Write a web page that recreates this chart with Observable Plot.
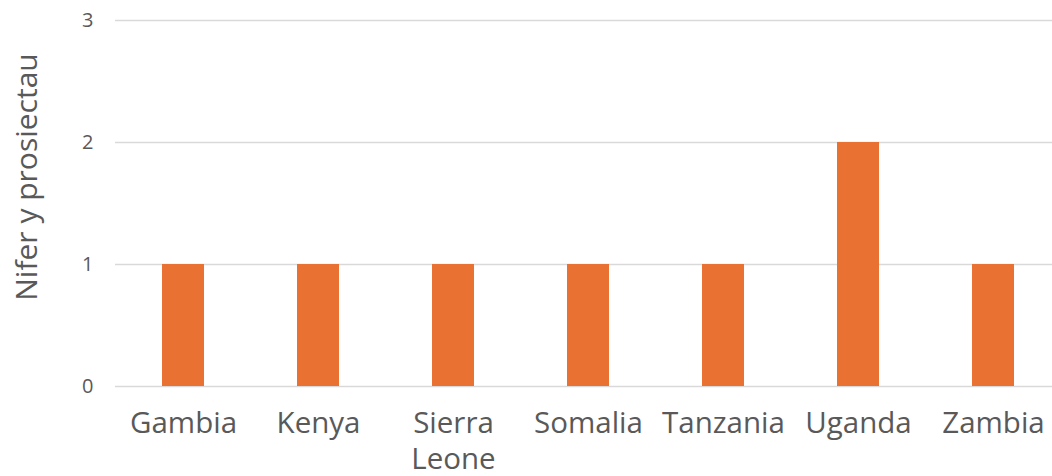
<!DOCTYPE html>
<html><head><meta charset="utf-8">
<script src="https://cdn.jsdelivr.net/npm/d3@7"></script>
<script src="https://cdn.jsdelivr.net/npm/@observablehq/plot@0.6"></script>
<style>body{margin:0;background:#fff}</style>
</head><body><div id="chart"></div>
<script>
const countries = ["Gambia","Kenya","Sierra Leone","Somalia","Tanzania","Uganda","Zambia"];
const projects = [1,1,1,1,1,2,1];
const yTicks = [0,1,2,3];
const yLabel = "Nifer y prosiectau";
const data = countries.map((c,i)=>({country:c, value:projects[i]}));
const chart = Plot.plot({
  width:1052, height:476, marginLeft:115, marginRight:0, marginTop:20, marginBottom:90,
  style:{fontFamily:"'Open Sans', sans-serif", background:"#fff"},
  x:{domain:countries, range:[115.5,1060.5], paddingInner:0.689, paddingOuter:0.3445},
  y:{domain:[0,3]},
  marks:[
    Plot.ruleY(yTicks, {stroke:"#d9d9d9", strokeWidth:1.3}),
    Plot.barY(data, {x:"country", y:"value", fill:"#E97132"}),
    Plot.axisY({ticks:yTicks, tickFormat:d3.format("d"), tickSize:0, tickPadding:22, fontSize:20, color:"#595959", label:null}),
    Plot.axisX({tickSize:0, tickPadding:21, fontSize:29.5, lineHeight:1.22, tickFormat:d=>d.replace(" ","\n"), label:null, color:"#595959"}),
    Plot.text([yLabel], {frameAnchor:"left", textAnchor:"middle", rotate:-90, dx:-88, dy:-26.5, fontSize:30, fill:"#595959", text:d=>d})
  ]
});
document.getElementById("chart").append(chart);
</script></body></html>
